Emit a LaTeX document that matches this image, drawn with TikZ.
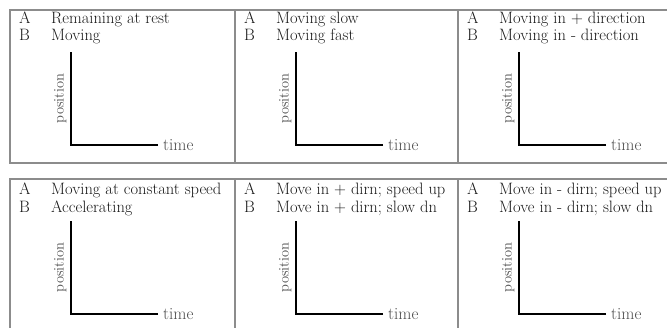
\documentclass[tikz,border=0pt]{standalone}
\usetikzlibrary{positioning}
\begin{document}
\begin{tikzpicture}[x=1pt,y=-1pt,
  frame/.style={draw=black!45,line width=1.4pt},
  axis/.style={line width=2.4pt},
  tag/.style={anchor=base west,inner sep=0pt,font=\fontsize{16.5}{18}\selectfont,text=black!90},
  tlab/.style={right,inner sep=4pt,font=\fontsize{17}{19}\selectfont,text=black!70},
  plab/.style={sloped,above,midway,font=\fontsize{14.5}{16}\selectfont,text=black!70}]
      \useasboundingbox (0,0) rectangle (667,328);
      \clip (0,0) rectangle (667,328);
      % frames
      \draw[frame] (10,10) rectangle (690,163) (235,10) -- (235,163) (458,10) -- (458,163);
      \draw[frame] (10,179) rectangle (690,345) (235,179) -- (235,345) (458,179) -- (458,345);
      % row 1
      \node[tag] (a1) at (19,24) {A};
      \node[tag] (ta1) at (51,24) {Remaining at rest};
      \node[tag] (b1) at (19,41) {B};
      \node[tag] (tb1) at (51,41) {Moving};
      \coordinate (o1) at (71,145);
      \draw[axis] (o1) ++(87,0) node[tlab] (t1) {time} -- (o1) -- node[plab] (p1) {position} ++(0,-93);
      \node[tag] (a2) at (244,24) {A};
      \node[tag] (ta2) at (276,24) {Moving slow};
      \node[tag] (b2) at (244,41) {B};
      \node[tag] (tb2) at (276,41) {Moving fast};
      \coordinate (o2) at (296,145);
      \draw[axis] (o2) ++(87,0) node[tlab] (t2) {time} -- (o2) -- node[plab] (p2) {position} ++(0,-93);
      \node[tag] (a3) at (467,24) {A};
      \node[tag] (ta3) at (499,24) {Moving in + direction};
      \node[tag] (b3) at (467,41) {B};
      \node[tag] (tb3) at (499,41) {Moving in - direction};
      \coordinate (o3) at (519,145);
      \draw[axis] (o3) ++(87,0) node[tlab] (t3) {time} -- (o3) -- node[plab] (p3) {position} ++(0,-93);
      % row 2
      \node[tag] (a4) at (19,195) {A};
      \node[tag] (ta4) at (51,195) {Moving at constant speed};
      \node[tag] (b4) at (19,213) {B};
      \node[tag] (tb4) at (51,213) {Accelerating};
      \coordinate (o4) at (71,314);
      \draw[axis] (o4) ++(87,0) node[tlab] (t4) {time} -- (o4) -- node[plab] (p4) {position} ++(0,-93);
      \node[tag] (a5) at (244,195) {A};
      \node[tag] (ta5) at (276,195) {Move in + dirn; speed up};
      \node[tag] (b5) at (244,213) {B};
      \node[tag] (tb5) at (276,213) {Move in + dirn; slow dn};
      \coordinate (o5) at (296,314);
      \draw[axis] (o5) ++(87,0) node[tlab] (t5) {time} -- (o5) -- node[plab] (p5) {position} ++(0,-93);
      \node[tag] (a6) at (467,195) {A};
      \node[tag] (ta6) at (499,195) {Move in - dirn; speed up};
      \node[tag] (b6) at (467,213) {B};
      \node[tag] (tb6) at (499,213) {Move in - dirn; slow dn};
      \coordinate (o6) at (519,314);
      \draw[axis] (o6) ++(87,0) node[tlab] (t6) {time} -- (o6) -- node[plab] (p6) {position} ++(0,-93);
\end{tikzpicture}
\end{document}
